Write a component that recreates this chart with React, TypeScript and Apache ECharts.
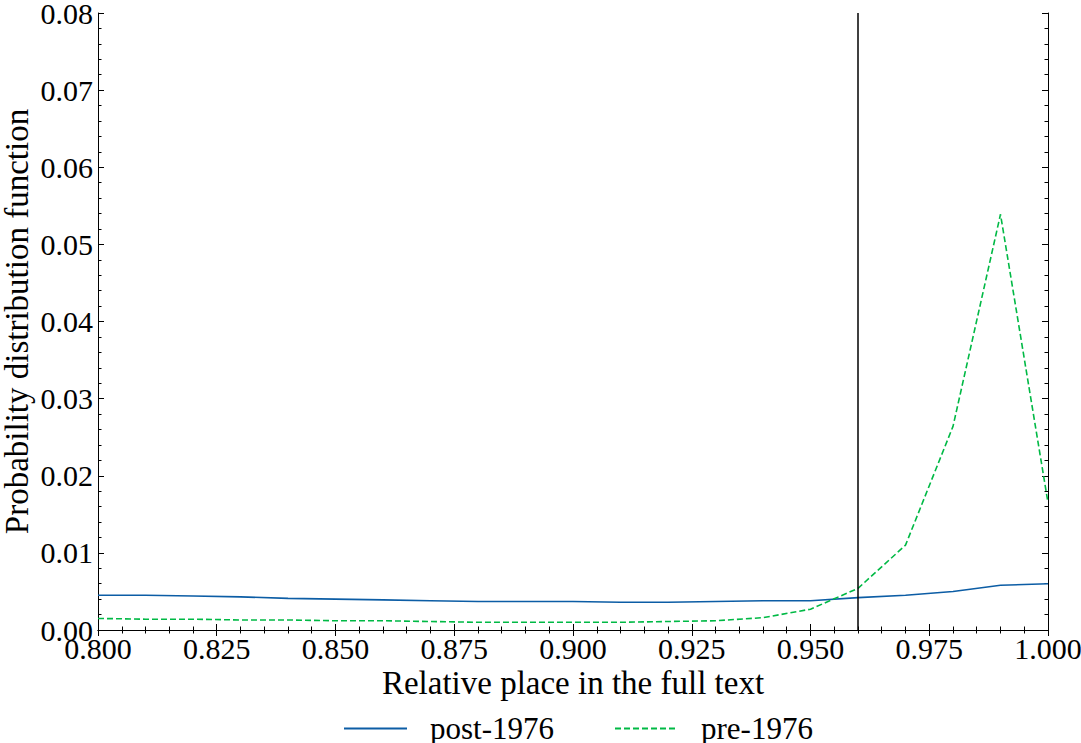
import React, { useEffect, useRef } from "react";
import * as echarts from "echarts";

const xValues = [0.80, 0.81, 0.82, 0.83, 0.84, 0.85, 0.86, 0.87, 0.88, 0.89, 0.90, 0.91, 0.92, 0.93, 0.94, 0.95, 0.96, 0.97, 0.98, 0.99, 1.00];
const post1976 = [0.0045, 0.0045, 0.0044, 0.0043, 0.0041, 0.0040, 0.0039, 0.0038, 0.0037, 0.0037, 0.0037, 0.0036, 0.0036, 0.0037, 0.0038, 0.0038, 0.0042, 0.0045, 0.0050, 0.0058, 0.0060];
const pre1976 = [0.0015, 0.0014, 0.0014, 0.0013, 0.0013, 0.0012, 0.0012, 0.0011, 0.0010, 0.0010, 0.0010, 0.0010, 0.0011, 0.0012, 0.0016, 0.0027, 0.0054, 0.0110, 0.0264, 0.0539, 0.0165];
const cutoff = 0.96;
const seriesNames = ["post-1976", "pre-1976"];
const xAxisTitle = "Relative place in the full text";
const yAxisTitle = "Probability distribution function";

const FONT = "'Liberation Serif', 'DejaVu Serif', serif";

export default function App() {
  const ref = useRef<HTMLDivElement>(null);
  useEffect(() => {
    if (!ref.current) return;
    const chart = echarts.init(ref.current, null, { renderer: "svg" });
    const tickCommon = {
      axisLine: { show: true, lineStyle: { color: "#000", width: 1 } },
      axisTick: { show: true, inside: true, length: 6, lineStyle: { color: "#000", width: 1 } },
      minorTick: { show: true, splitNumber: 5, length: 3.5, lineStyle: { color: "#000", width: 1 } },
      splitLine: { show: false },
      minorSplitLine: { show: false },
    };
    const xBase = { type: "value", min: 0.8, max: 1.0, interval: 0.025, ...tickCommon };
    const yBase = { type: "value", min: 0, max: 0.08, interval: 0.01, ...tickCommon };
    chart.setOption({
      animation: false,
      backgroundColor: "#fff",
      textStyle: { fontFamily: FONT },
      grid: { left: 98, right: 33, top: 13, bottom: 113, containLabel: false, outerBoundsMode: "none" },
      legend: {
        data: seriesNames,
        left: 338,
        top: 708,
        itemWidth: 63,
        itemHeight: 30,
        itemGap: 60,
        itemStyle: { opacity: 0 },
        textStyle: { fontFamily: FONT, fontSize: 31, color: "#000", padding: [0, 0, 0, 18] },
      },
      xAxis: [
        {
          ...xBase,
          position: "bottom",
          name: xAxisTitle,
          nameLocation: "middle",
          nameGap: 36,
          nameMoveOverlap: false,
          nameTextStyle: { fontFamily: FONT, fontSize: 33, color: "#000", verticalAlign: "top" },
          axisLabel: {
            show: true,
            margin: 3,
            fontFamily: FONT,
            fontSize: 30,
            color: "#000",
            formatter: (v: number) => v.toFixed(3),
          },
        },
        { ...xBase, position: "top", axisLabel: { show: false } },
      ],
      yAxis: [
        {
          ...yBase,
          position: "left",
          name: yAxisTitle,
          nameLocation: "middle",
          nameGap: 65,
          nameMoveOverlap: false,
          nameTextStyle: { fontFamily: FONT, fontSize: 33, color: "#000" },
          axisLabel: {
            show: true,
            margin: 5,
            fontFamily: FONT,
            fontSize: 30,
            color: "#000",
            formatter: (v: number) => v.toFixed(2),
          },
        },
        { ...yBase, position: "right", axisLabel: { show: false } },
      ],
      series: [
        {
          name: seriesNames[0],
          type: "line",
          xAxisIndex: 0,
          yAxisIndex: 0,
          data: xValues.map((x, i) => [x, post1976[i]]),
          symbol: "none",
          showSymbol: false,
          color: "#0C5DA5",
          lineStyle: { color: "#0C5DA5", width: 1.6, type: "solid" },
          markLine: {
            silent: true,
            symbol: ["none", "none"],
            label: { show: false },
            lineStyle: { color: "#000", width: 1.5, type: "solid" },
            data: [{ xAxis: cutoff }],
          },
        },
        {
          name: seriesNames[1],
          type: "line",
          xAxisIndex: 0,
          yAxisIndex: 0,
          data: xValues.map((x, i) => [x, pre1976[i]]),
          symbol: "none",
          showSymbol: false,
          color: "#00B945",
          lineStyle: { color: "#00B945", width: 1.6, type: [6, 3] },
        },
      ],
    });
    return () => chart.dispose();
  }, []);
  return <div ref={ref} style={{ width: 1081, height: 743, position: "absolute", left: 0, top: 0 }} />;
}
